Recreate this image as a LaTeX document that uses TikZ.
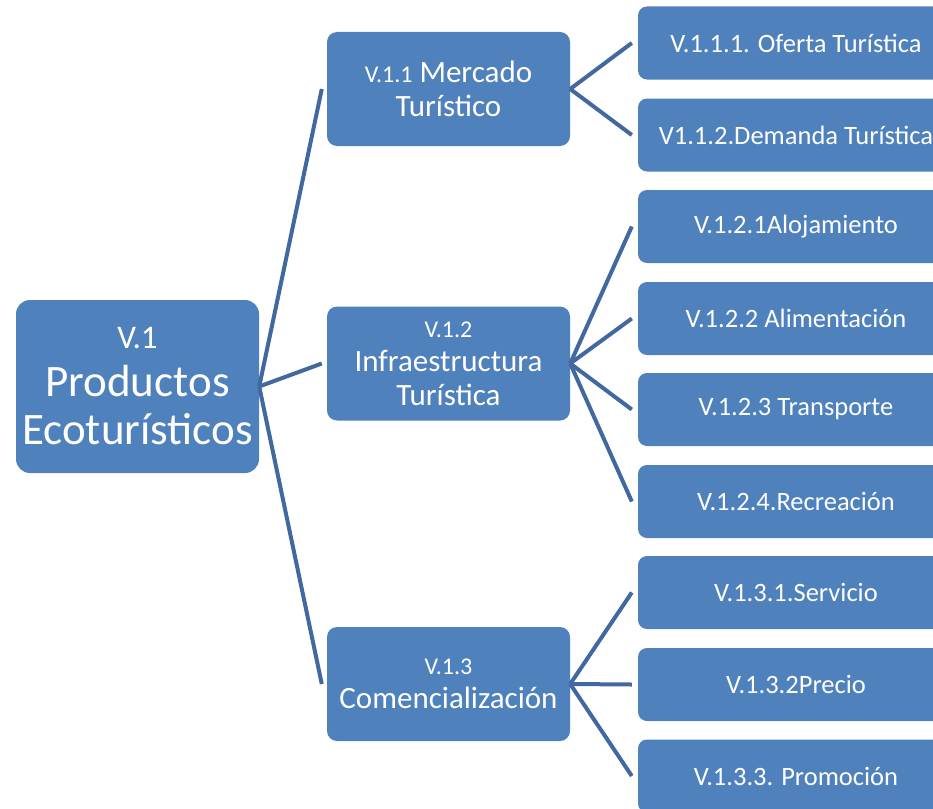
\documentclass[tikz,border=0pt]{standalone}
\usepackage{fontspec}
\setmainfont{Carlito}
\definecolor{boxblue}{RGB}{79,129,189}
\definecolor{lineblue}{RGB}{65,105,160}
\newcommand{\fs}[2]{\fontsize{#1}{#2}\selectfont}
\begin{document}
\begin{tikzpicture}[x=1pt,y=-1pt,
  box/.style={fill=boxblue,draw=none,text=white,align=center,rounded corners=9pt,inner sep=0pt},
  rootbox/.style={box,minimum width=243pt,minimum height=173pt,rounded corners=14pt,font=\fs{45}{48}},
  midbox/.style={box,minimum width=243pt,minimum height=114pt,rounded corners=10pt,font=\fs{31}{34}},
  leafbox/.style={box,minimum width=316pt,minimum height=73pt,font=\fs{26.5}{30}},
  conn/.style={draw=lineblue,line width=4pt}]
\useasboundingbox (0,0) rectangle (933,808);
\node[rootbox] (root) at (137.5,386.5) {{\fs{33}{48}V.1}\\Productos\\Ecoturísticos};
\node[midbox] (m1) at (448.5,89) {{\fs{24}{34}V.1.1} Mercado\\Turístico};
\node[midbox] (m2) at (448.5,363.5) {{\fs{24}{34}V.1.2}\\Infraestructura\\Turística};
\node[midbox] (m3) at (448.5,684) {{\fs{24}{34}V.1.3}\\Comencialización};
\node[leafbox] (l1) at (796,43) {V.1.1.1. Oferta Turística};
\node[leafbox] (l2) at (796,135) {V1.1.2.Demanda Turística};
\node[leafbox] (l3) at (796,226.5) {V.1.2.1Alojamiento};
\node[leafbox] (l4) at (796,318.5) {V.1.2.2 Alimentación};
\node[leafbox] (l5) at (796,409.5) {V.1.2.3 Transporte};
\node[leafbox] (l6) at (796,501.5) {V.1.2.4.Recreación};
\node[leafbox] (l7) at (796,592.5) {V.1.3.1.Servicio};
\node[leafbox] (l8) at (796,684.5) {V.1.3.2Precio};
\node[leafbox] (l9) at (796,776) {V.1.3.3. Promoción};
\foreach \m in {m1,m2,m3}{\draw[conn] (root.east) -- ([xshift=-5pt]\m.west);}
\foreach \l in {l1,l2}{\draw[conn] (m1.east) -- ([xshift=-6pt]\l.west);}
\foreach \l in {l3,l4,l5,l6}{\draw[conn] (m2.east) -- ([xshift=-6pt]\l.west);}
\foreach \l in {l7,l8,l9}{\draw[conn] (m3.east) -- ([xshift=-6pt]\l.west);}
\end{tikzpicture}
\end{document}
